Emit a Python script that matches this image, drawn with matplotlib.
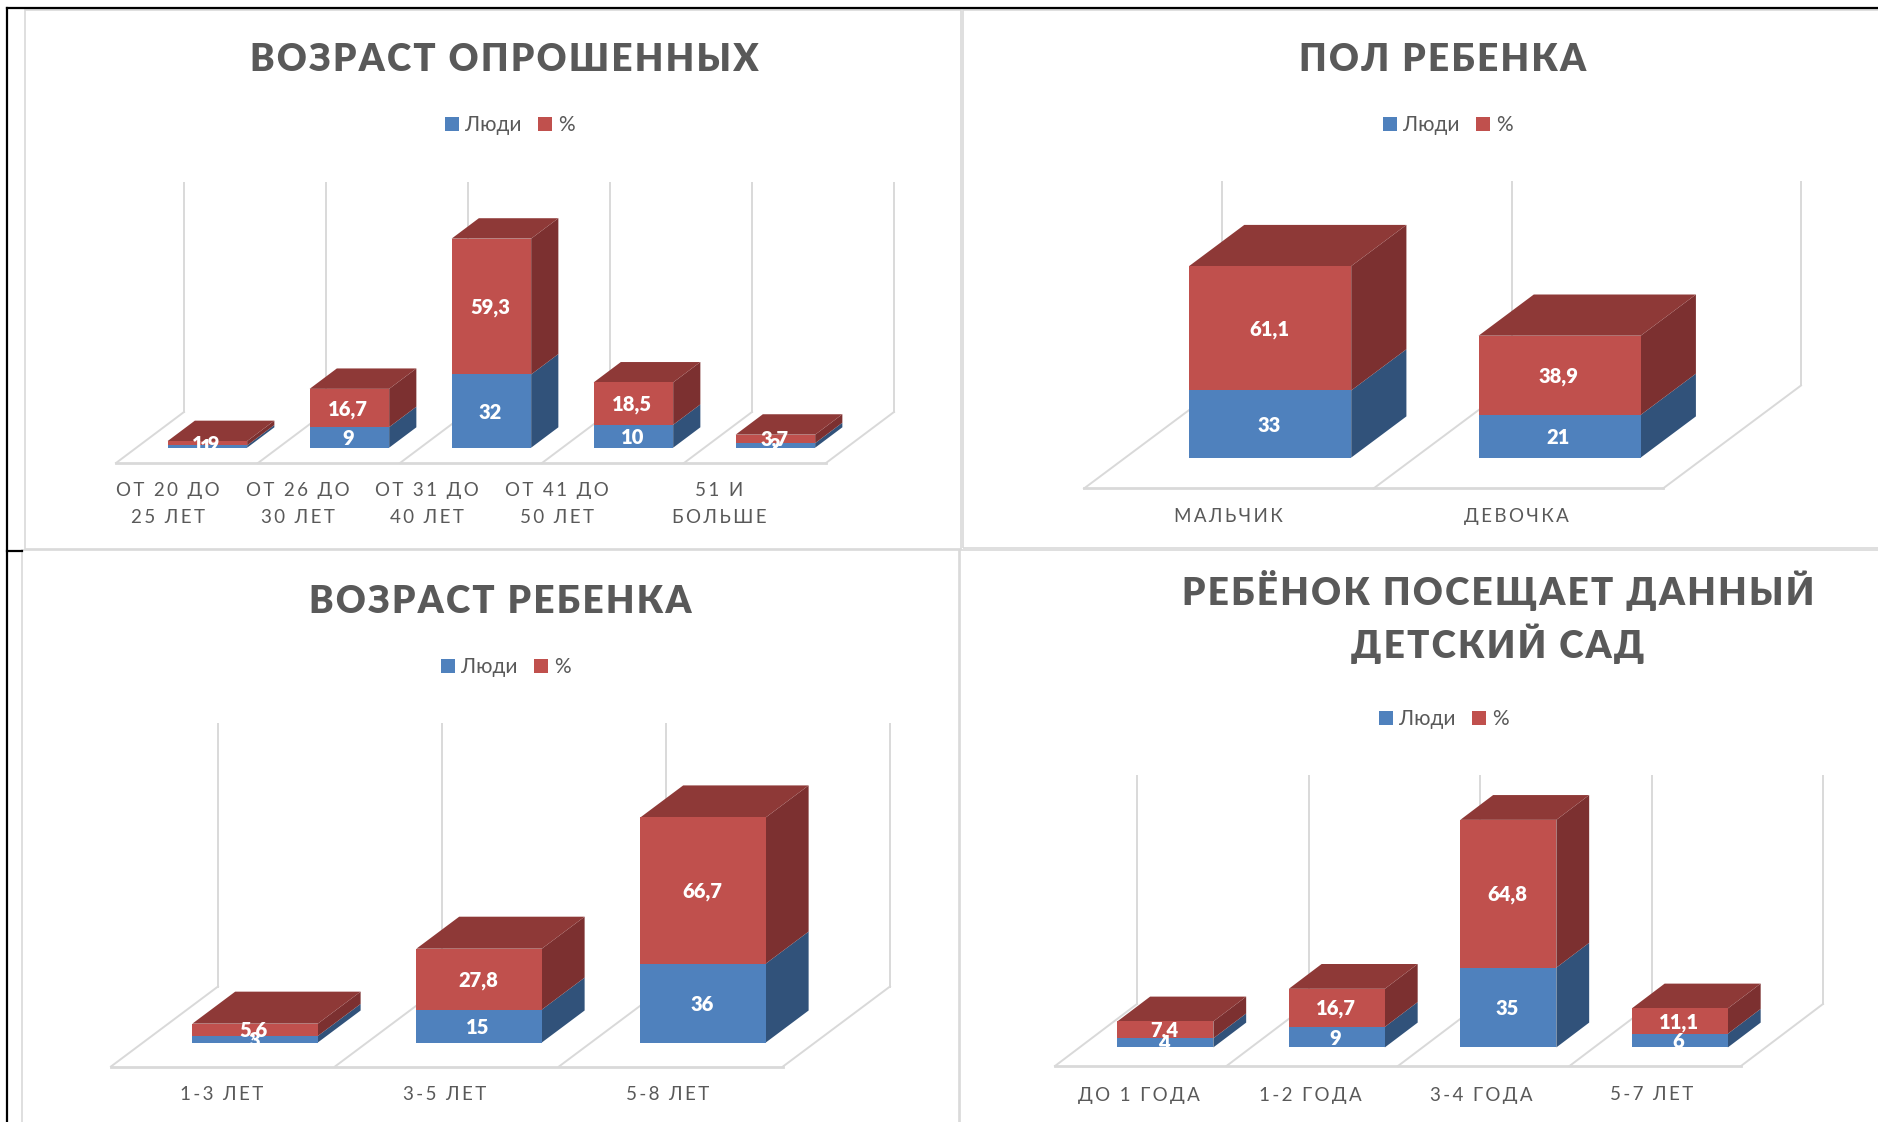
import matplotlib
matplotlib.use("Agg")
import matplotlib.pyplot as plt
from matplotlib.lines import Line2D
from matplotlib.patches import Polygon, Rectangle

W, H = 1878, 1122
FONT = ["Lato", "Open Sans", "DejaVu Sans"]
plt.rcParams["font.family"] = FONT

# chart data
titles = ["ВОЗРАСТ ОПРОШЕННЫХ", "ПОЛ РЕБЕНКА", "ВОЗРАСТ РЕБЕНКА", "РЕБЁНОК ПОСЕЩАЕТ ДАННЫЙ\nДЕТСКИЙ САД"]
categories = [
    ["ОТ 20 ДО\n25 ЛЕТ", "ОТ 26 ДО\n30 ЛЕТ", "ОТ 31 ДО\n40 ЛЕТ", "ОТ 41 ДО\n50 ЛЕТ", "51 И\nБОЛЬШЕ"],
    ["МАЛЬЧИК", "ДЕВОЧКА"],
    ["1-3 ЛЕТ", "3-5 ЛЕТ", "5-8 ЛЕТ"],
    ["ДО 1 ГОДА", "1-2 ГОДА", "3-4 ГОДА", "5-7 ЛЕТ"],
]
people = [
    [1, 9, 32, 10, 2],
    [33, 21],
    [3, 15, 36],
    [4, 9, 35, 6],
]
percent = [
    [1.9, 16.7, 59.3, 18.5, 3.7],
    [61.1, 38.9],
    [5.6, 27.8, 66.7],
    [7.4, 16.7, 64.8, 11.1],
]
axis_max = [100, 100, 120, 100]

# layout in pixels of the full picture
frames = [(25, 10, 961, 549), (963, 10, 1890, 548), (22, 550, 959, 1135), (960, 550, 1890, 1135)]
floor_left = [116, 1084, 111, 1055]
floor_right = [826, 1663, 783, 1741]
floor_y = [463, 488.5, 1066.5, 1066]
floor_dx = [68, 138, 107, 82]
floor_dy = [51, 103, 80, 62]
wall_top = [183, 182, 723.5, 776]
title_pos = [(504, 60), (1443, 60), (500, 602), (1498, 617)]
legend_pos = [(510, 125), (1448, 125), (506, 667), (1444, 719)]
tick_x = [[168, 298, 427, 557, 719], [1228, 1516], [222, 445, 668], [1139, 1310, 1481, 1652]]
tick_y = [504, 517, 1095, 1095]

BLUE, RED = "#4f81bd", "#c0504d"
BLUE_SIDE, RED_SIDE, RED_TOP = "#31527a", "#7c3030", "#8e3937"
GRID = "#d9d9d9"
TEXT = "#595959"
BAR_WIDTH = 0.56
BAR_DEPTH = 0.4


def fx(px):
    return px / W


def fy(px):
    return 1 - px / H


def spaced(text, gap):
    # no letter spacing in matplotlib, so push the letters apart with a thin space
    return "\n".join(gap.join(line) for line in text.split("\n"))


def bar_label(ax, x, y, text):
    ax.annotate(text, (x, y), xytext=(-0.8, -0.8), textcoords="offset points", color="white", fontsize=14.5,
                fontweight="heavy", ha="center", va="center", zorder=5)


fig = plt.figure(figsize=(W / 100, H / 100), dpi=100, facecolor="white")

for x0, y0, x1, y1 in frames:
    fig.add_artist(Rectangle((fx(x0), fy(y1)), (x1 - x0) / W, (y1 - y0) / H, transform=fig.transFigure,
                             fill=False, edgecolor=GRID, linewidth=1.2))

# black page rules
fig.add_artist(Line2D([fx(7), 1], [fy(8), fy(8)], color="black", linewidth=1.6))
fig.add_artist(Line2D([fx(7), fx(7)], [fy(8), 0], color="black", linewidth=1.6))
fig.add_artist(Line2D([fx(7), fx(22)], [fy(551), fy(551)], color="black", linewidth=1.6))

for p in range(4):
    n = len(categories[p])
    back_y = floor_y[p] - floor_dy[p]
    per_unit = (back_y - wall_top[p]) / axis_max[p]
    per_cat = (floor_right[p] - floor_left[p]) / n
    depth_x = floor_dx[p] / per_cat
    depth_y = floor_dy[p] / per_unit
    y_min = -depth_y * (1 - BAR_DEPTH) / 2
    back_val = y_min + depth_y

    ax = fig.add_axes([fx(floor_left[p]), fy(floor_y[p]), (floor_right[p] - floor_left[p]) / W,
                       (floor_y[p] - wall_top[p]) / H])
    ax.set_xlim(0, n)
    ax.set_ylim(y_min, back_val + axis_max[p])
    ax.axis("off")

    # floor and walls
    ax.plot([0, n], [y_min, y_min], color=GRID, linewidth=2, clip_on=False, zorder=1)
    for i in range(n + 1):
        ax.plot([i, i + depth_x], [y_min, back_val], color=GRID, linewidth=1.4, clip_on=False, zorder=1)
        ax.plot([i + depth_x, i + depth_x], [back_val, back_val + axis_max[p]], color=GRID, linewidth=1.4,
                clip_on=False, zorder=1)

    bar_dx = depth_x * BAR_DEPTH
    bar_dy = depth_y * BAR_DEPTH
    centers = [i + 0.5 + depth_x * (1 - BAR_DEPTH) / 2 for i in range(n)]

    ax.bar(centers, people[p], BAR_WIDTH, color=BLUE, label="Люди", zorder=3, linewidth=0)
    ax.bar(centers, percent[p], BAR_WIDTH, bottom=people[p], color=RED, label="%", zorder=3, linewidth=0)

    for c, a, b in zip(centers, people[p], percent[p]):
        right = c + BAR_WIDTH / 2
        left = c - BAR_WIDTH / 2
        top = a + b
        ax.add_patch(Polygon([(right, 0), (right + bar_dx, bar_dy), (right + bar_dx, a + bar_dy), (right, a)],
                             facecolor=BLUE_SIDE, edgecolor="none", zorder=2, clip_on=False))
        ax.add_patch(Polygon([(right, a), (right + bar_dx, a + bar_dy), (right + bar_dx, top + bar_dy), (right, top)],
                             facecolor=RED_SIDE, edgecolor="none", zorder=2, clip_on=False))
        ax.add_patch(Polygon([(left, top), (right, top), (right + bar_dx, top + bar_dy), (left + bar_dx, top + bar_dy)],
                             facecolor=RED_TOP, edgecolor="none", zorder=2, clip_on=False))
        bar_label(ax, c, a / 2, str(a))
        bar_label(ax, c, a + b / 2, f"{b:.1f}".replace(".", ","))

    tx, ty = title_pos[p]
    fig.text(fx(tx), fy(ty), spaced(titles[p], "\u200a"), color=TEXT, fontsize=26.5, fontweight="heavy",
             ha="center", va="center", linespacing=1.38, multialignment="center")

    for x, label in zip(tick_x[p], categories[p]):
        fig.text(fx(x), fy(tick_y[p]), spaced(label, "\u2009"), color=TEXT, fontsize=13.5, ha="center", va="center",
                 linespacing=1.75, multialignment="center")

    lx, ly = legend_pos[p]
    ax.legend(loc="center", bbox_to_anchor=(fx(lx), fy(ly)), bbox_transform=fig.transFigure, ncol=2, frameon=False,
              fontsize=15, labelcolor=TEXT, handlelength=0.67, handleheight=0.67, handletextpad=0.3,
              columnspacing=0.8, borderpad=0, borderaxespad=0)

fig.savefig("out.png", dpi=100)
